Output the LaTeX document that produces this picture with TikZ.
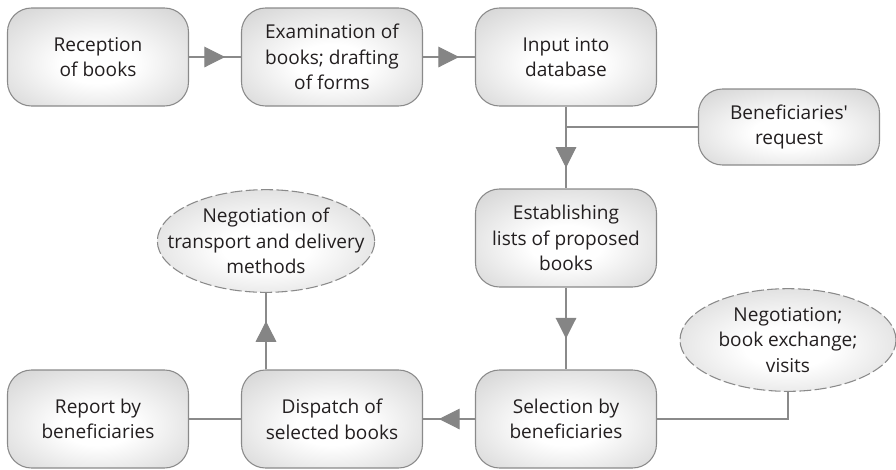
\documentclass[tikz,border=0pt]{standalone}
\usepackage{fontspec}
\setmainfont{Open Sans}
\usetikzlibrary{shapes.geometric,arrows.meta,decorations.markings,positioning}
\definecolor{edgegray}{HTML}{8A8A8A}
\definecolor{arrgray}{HTML}{858585}
\definecolor{txtgray}{HTML}{231F20}
\pgfdeclareradialshading{boxshade}{\pgfpoint{0bp}{-4bp}}{color(0bp)=(white); color(10bp)=(white); color(50bp)=(black!26); color(75bp)=(black!36)}

\begin{document}
\begin{tikzpicture}[x=0.75pt,y=-0.75pt,
  box/.style={rectangle,rounded corners=18pt,draw=edgegray,line width=0.8pt,
    shading=boxshade,
    minimum width=135.75pt,minimum height=73.5pt,inner sep=0pt,
    align=center,text=txtgray,font=\fontsize{14.3}{19.2}\selectfont},
  oval/.style={ellipse,draw=edgegray,line width=0.8pt,dash pattern=on 9pt off 2.5pt,
    shading=boxshade,minimum width=162pt,minimum height=77pt,inner sep=0pt},
  ovaltext/.style={align=center,inner sep=0pt,text=txtgray,font=\fontsize{14.3}{19.2}\selectfont},
  link/.style={draw=edgegray,line width=0.8pt},
  midarrow/.style={link,postaction={decorate},decoration={markings,
    mark=at position 0.5 with {\arrow[xshift=7.5pt]{Triangle[length=15.5pt,width=15.5pt,color=arrgray]}}}}]
\useasboundingbox (0,0) rectangle (896,469);

\node[box] (recep) at (98,57) {Reception\\of books};
\node[box] (exam) at (332,57) {Examination of\\books; drafting\\of forms};
\node[box] (input) at (566,57) {Input into\\database};
\node[box,minimum height=57pt] (benef) at (789,127) {Beneficiaries\textquotesingle\\request};
\node[box] (establ) at (566,238) {Establishing\\lists of proposed\\books};
\node[box] (select) at (566,419) {Selection by\\beneficiaries};
\node[oval] (negot) at (788,340) {};
\node[ovaltext] (negottxt) at (negot) {Negotiation;\\book exchange;\\visits};
\node[box] (dispatch) at (332,419) {Dispatch of\\selected books};
\node[box] (report) at (98,419) {Report by\\beneficiaries};
\node[oval,minimum width=163pt] (transp) at (266,241) {};
\node[ovaltext] (transptxt) at (transp) {Negotiation of\\transport and delivery\\methods};

\coordinate (jct) at (input.south |- benef.west);

\draw[midarrow] (recep) -- (exam);
\draw[midarrow] (exam) -- (input);
\draw[link] (input) -- (jct);
\draw[link] (benef) -- (jct);
\draw[midarrow] (jct) -- (establ);
\draw[midarrow] (establ) -- (select);
\draw[link] (negot.south) |- (select.east);
\draw[midarrow] (select) -- (dispatch);
\draw[link] (dispatch) -- (report);
\draw[midarrow] (transp.south |- dispatch.north) -- (transp.south);
\end{tikzpicture}
\end{document}
